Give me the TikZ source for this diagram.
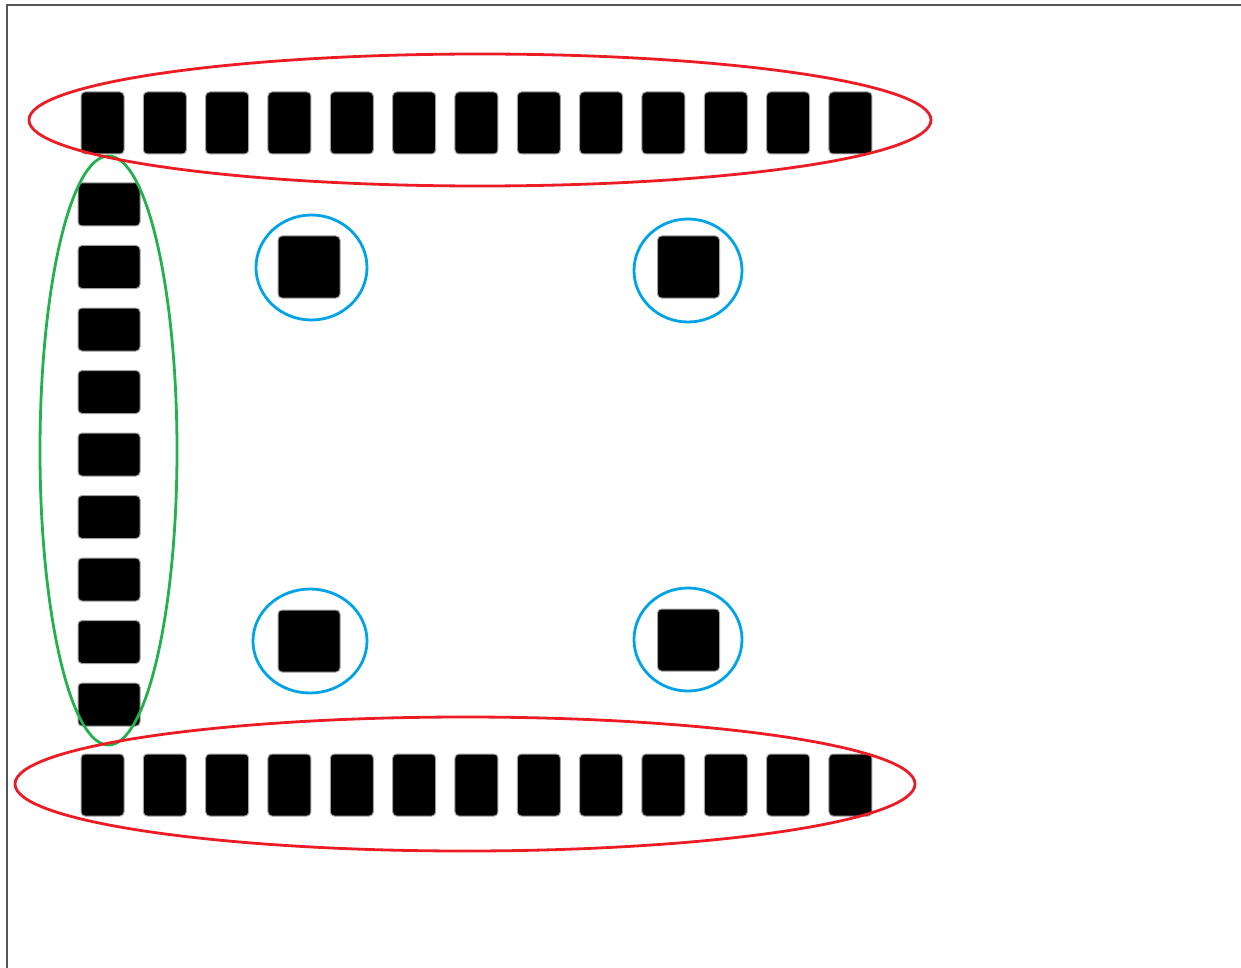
\documentclass[tikz,border=0pt]{standalone}
\usepackage{tikz}
\usetikzlibrary{shapes,positioning}
\definecolor{ringred}{HTML}{ED1C24}
\definecolor{ringgreen}{HTML}{22B14C}
\definecolor{ringblue}{HTML}{00A2E8}
\definecolor{padedge}{HTML}{A0A0A0}
\definecolor{framecol}{HTML}{555555}
\tikzset{
  basic pad/.style = {
    shape = rectangle,
    draw = padedge,
    fill = black,
    line width = 1pt,
    rounded corners = 4pt,
    inner sep = 0pt,
    },
  tall pad/.style = {
    basic pad,
    minimum width = 43pt,
    minimum height = 62pt,
    },
  wide pad/.style = {
    basic pad,
    minimum width = 62pt,
    minimum height = 43pt,
    },
  square pad/.style = {
    basic pad,
    minimum width = 62pt,
    minimum height = 62pt,
    },
  ring/.style n args={3}{
    shape = ellipse,
    draw = #1,
    line width = 2.8pt,
    inner sep = 0pt,
    minimum width = #2,
    minimum height = #3,
    },
}

\begin{document}
\begin{tikzpicture}[x=1pt,y=-1pt]
    \useasboundingbox (0,0) rectangle (1241,968);

    % frame
    \coordinate (framebl) at (7,968);
    \coordinate (frametl) at (7,5);
    \coordinate (frametr) at (1241,5);
    \draw[framecol,line width=1.5pt] (framebl) -- (frametl) -- (frametr);

    % top row
    \foreach \i in {1,...,13}
        \node [tall pad] (top\i) at ({102.5+62.33*(\i-1)},123) {};

    % bottom row
    \foreach \i in {1,...,13}
        \node [tall pad] (bot\i) at ({102.5+62.33*(\i-1)},785) {};

    % left column
    \foreach \i in {1,...,9}
        \node [wide pad] (left\i) at (109,{204.5+62.5*(\i-1)}) {};

    % inner pads
    \node [square pad] (padtl) at (309,267) {};
    \node [square pad] (padtr) at (688.5,267) {};
    \node [square pad] (padbl) at (309,641) {};
    \node [square pad] (padbr) at (688.5,640) {};

    % rings
    \node [ring={ringgreen}{137pt}{589pt}] (leftring) at (108.5,450.5) {};
    \node [ring={ringred}{902pt}{132pt}] (topring) at (480,120) {};
    \node [ring={ringred}{900pt}{134pt}] (botring) at (465,784) {};

    \node [ring={ringblue}{111pt}{105pt}] (ringtl) at (311.5,267.5) {};
    \node [ring={ringblue}{108pt}{103pt}] (ringtr) at (688,270.5) {};
    \node [ring={ringblue}{114pt}{104pt}] (ringbl) at (310,641) {};
    \node [ring={ringblue}{108pt}{103pt}] (ringbr) at (688,639.5) {};
\end{tikzpicture}
\end{document}
